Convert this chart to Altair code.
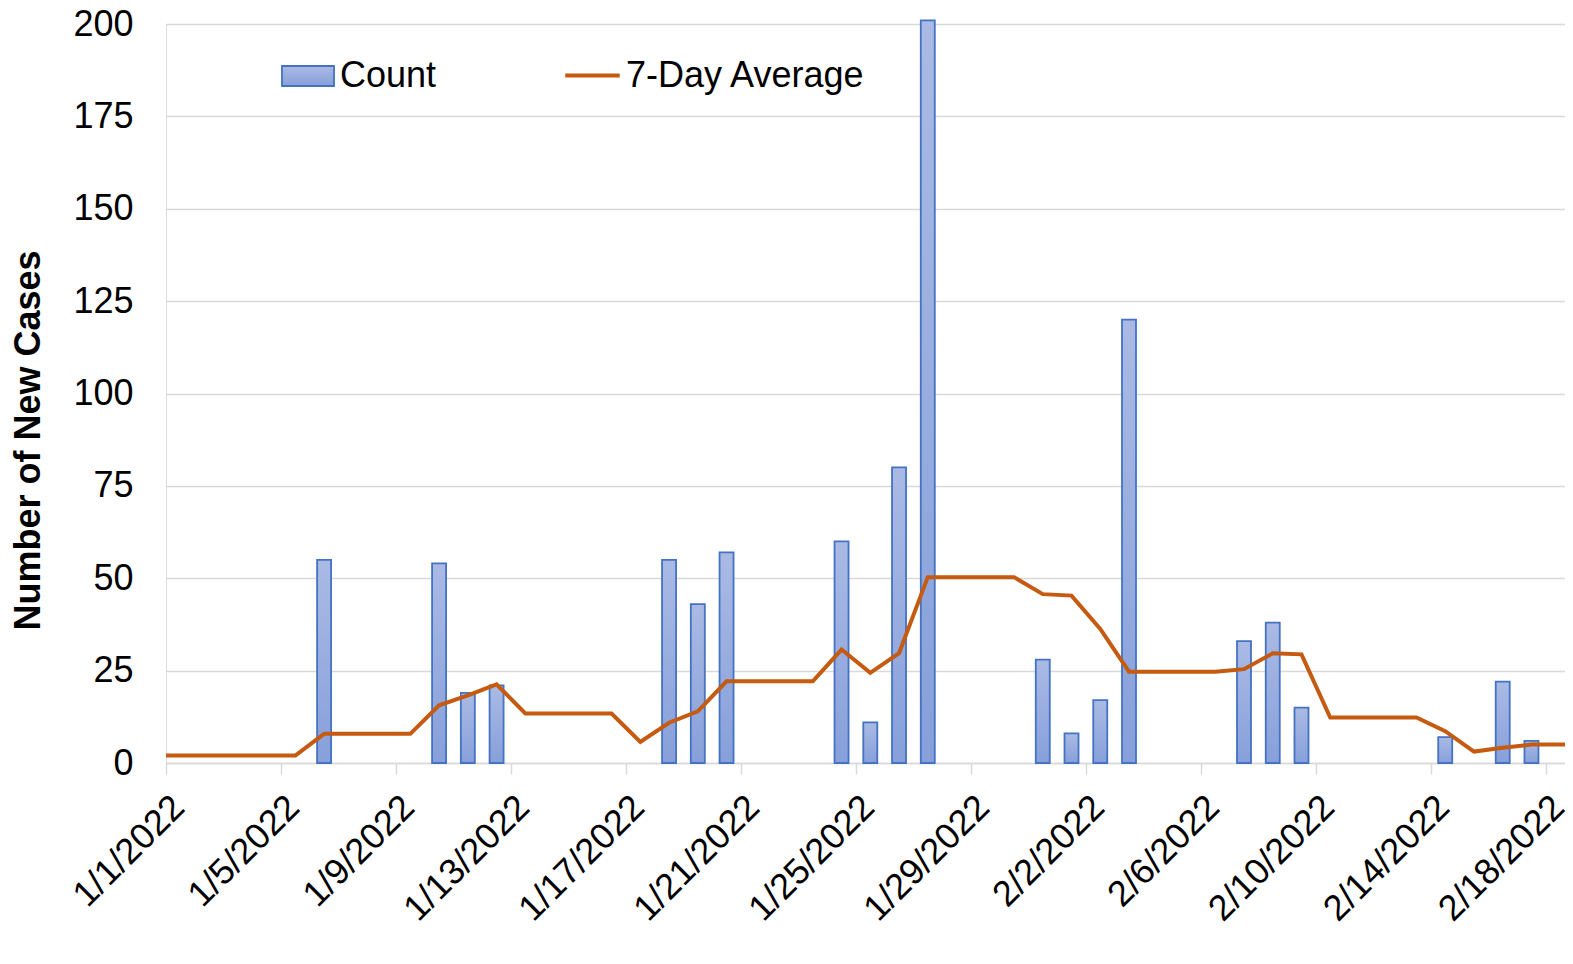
import altair as alt
import pandas as pd

# ---- data ----
count_dates = ["2022-01-06", "2022-01-10", "2022-01-11", "2022-01-12", "2022-01-18",
               "2022-01-19", "2022-01-20", "2022-01-24", "2022-01-25", "2022-01-26",
               "2022-01-27", "2022-01-31", "2022-02-01", "2022-02-02", "2022-02-03",
               "2022-02-07", "2022-02-08", "2022-02-09", "2022-02-14", "2022-02-16",
               "2022-02-17"]
counts = [55, 54, 19, 21, 55, 43, 57, 60, 11, 80, 201, 28, 8, 17, 120, 33, 38, 15, 7, 22, 6]

avg_start = "2021-12-31"
avg_values = [2.0,
              2.0, 2.0, 2.0, 2.0, 2.0,
              7.9, 7.9, 7.9, 7.9,
              15.6, 18.3, 21.3,
              13.4, 13.4, 13.4, 13.4,
              5.7, 10.9, 14.0,
              22.1, 22.1, 22.1, 22.1,
              30.7, 24.4, 29.7,
              50.3, 50.3, 50.3, 50.3,
              45.7, 45.3, 36.3,
              24.7, 24.7, 24.7, 24.7,
              25.4, 29.7, 29.4,
              12.3, 12.3, 12.3, 12.3,
              8.6, 3.1, 4.1, 5.0, 5.0, 5.0]

tick_dates = ["2022-01-01", "2022-01-05", "2022-01-09", "2022-01-13", "2022-01-17",
              "2022-01-21", "2022-01-25", "2022-01-29", "2022-02-02", "2022-02-06",
              "2022-02-10", "2022-02-14", "2022-02-18"]
y_ticks = [0, 25, 50, 75, 100, 125, 150, 175, 200]

# ---- tables ----
half_day = pd.Timedelta(hours=12)
bars_df = pd.DataFrame({
    "date": pd.to_datetime(count_dates) + half_day,
    "value": counts,
    "series": "Count",
})
line_df = pd.DataFrame({
    "date": pd.date_range(avg_start, periods=len(avg_values), freq="D") + half_day,
    "value": avg_values,
    "series": "7-Day Average",
})

FONT = "Liberation Sans"
GRID = "#d9d9d9"


def dt(s, hours=0):
    t = pd.Timestamp(s)
    return alt.DateTime(year=t.year, month=t.month, date=t.day, hours=hours)


x_scale = alt.Scale(domain=[dt("2022-01-01"), dt("2022-02-18", hours=16)], padding=0)
x_axis = alt.Axis(
    values=[dt(d) for d in tick_dates],
    format="%-m/%-d/%Y",
    title=None,
    grid=False,
    domainColor=GRID,
    domainWidth=1.5,
    ticks=True,
    tickColor=GRID,
    tickWidth=1.5,
    tickSize=11,
    labelAngle=315,
    labelAlign="right",
    labelBaseline="alphabetic",
    labelPadding=35,
    labelOffset=20,
    labelFont=FONT,
    labelFontSize=36,
    labelColor="black",
    labelOverlap=False,
    labelFlush=False,
)
y_axis = alt.Axis(
    values=y_ticks,
    title="Number of New Cases",
    titleFont=FONT,
    titleFontSize=36,
    titleFontWeight="bold",
    titleColor="black",
    titleAngle=270,
    titleAlign="center",
    titleBaseline="middle",
    titleX=-138,
    titleY=416,
    grid=True,
    gridColor=GRID,
    gridWidth=1.5,
    domain=False,
    ticks=False,
    tickSize=0,
    labelPadding=33,
    labelFont=FONT,
    labelFontSize=36,
    labelColor="black",
)
y_scale = alt.Scale(domain=[0, 200], nice=False)

bar_fill = alt.Gradient(
    gradient="linear",
    stops=[alt.GradientStop(color="#aabae4", offset=0),
           alt.GradientStop(color="#87a0da", offset=1)],
    x1=0, x2=0, y1=0, y2=1,
)

bars = alt.Chart(bars_df).mark_bar(
    width=14, fill=bar_fill, strokeWidth=1.8
).encode(
    x=alt.X("date:T", scale=x_scale, axis=x_axis),
    y=alt.Y("value:Q", scale=y_scale, axis=y_axis),
    stroke=alt.Stroke(
        "series:N",
        scale=alt.Scale(domain=["Count"], range=["#4472C4"]),
        legend=alt.Legend(
            title=None, orient="none", legendX=115, legendY=25, padding=0,
            symbolType="M-1,-0.385H1V0.385H-1Z", symbolSize=2704,
            symbolFillColor="#a2b3e0", symbolStrokeWidth=1.8,
            labelFont=FONT, labelFontSize=36, labelColor="black", labelOffset=5,
            labelLimit=500,
        ),
    ),
)

line = alt.Chart(line_df).mark_line(strokeWidth=4, clip=True).encode(
    x=alt.X("date:T", scale=x_scale, axis=x_axis),
    y=alt.Y("value:Q", scale=y_scale, axis=y_axis),
    stroke=alt.Stroke(
        "series:N",
        scale=alt.Scale(domain=["7-Day Average"], range=["#C55A11"]),
        legend=alt.Legend(
            title=None, orient="none", legendX=397, legendY=22, padding=0,
            symbolType="stroke", symbolSize=2970, symbolStrokeWidth=4,
            labelFont=FONT, labelFontSize=36, labelColor="black", labelOffset=4,
            labelLimit=500,
        ),
    ),
)

chart = alt.layer(bars, line).resolve_scale(stroke="independent").resolve_legend(
    stroke="independent"
).properties(
    width=1399,
    height=739,
    padding={"left": 158, "top": 16, "right": 0, "bottom": 190},
    autosize=alt.AutoSizeParams(type="none"),
).configure_view(stroke=None).configure(background="white")

chart.save("out.html", embed_options={"renderer": "svg", "actions": False})
